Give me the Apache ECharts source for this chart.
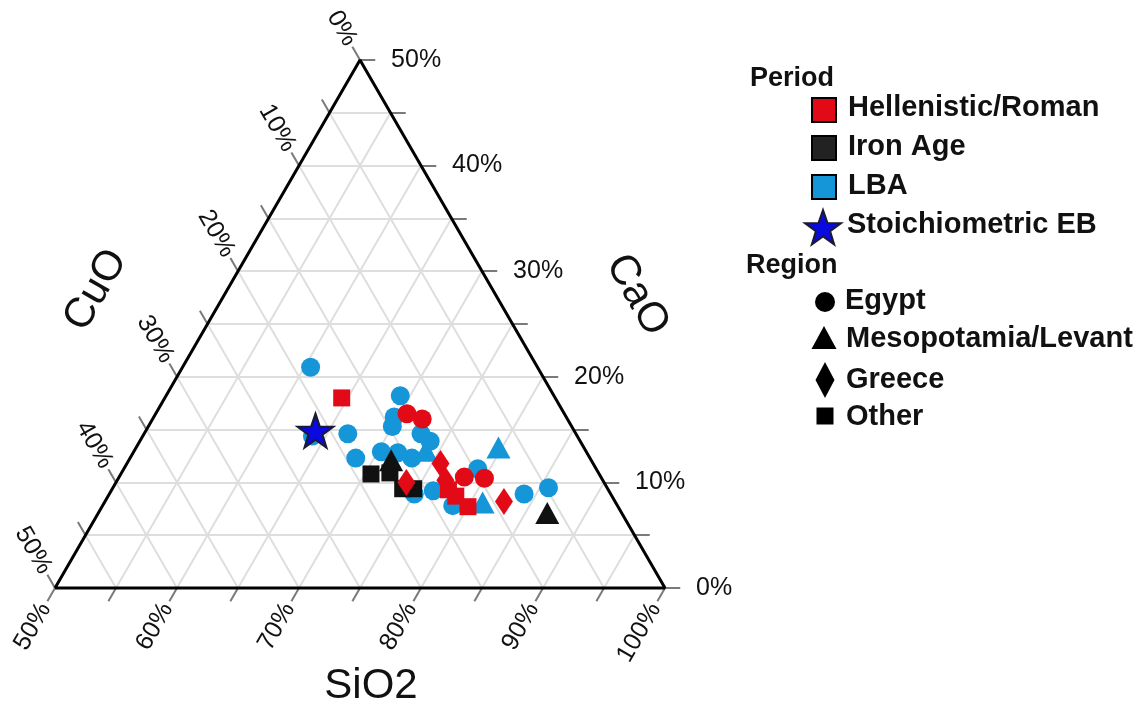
<!DOCTYPE html>
<html>
<head>
<meta charset="utf-8">
<script src="https://cdn.jsdelivr.net/npm/echarts@6/dist/echarts.min.js"></script>
<style>
  html, body { margin: 0; padding: 0; background: #fff; }
  #main { width: 1143px; height: 704px; }
</style>
</head>
<body>
<div id="main"></div>
<script>
// compositions: [SiO2, CaO, CuO] in %
const lbaEgypt = [
  [60.5, 20.9, 18.6], [63.9, 14.4, 21.7], [66.7, 14.6, 18.7], [68.5, 12.3, 19.2],
  [69.2, 18.2, 12.6], [69.7, 16.2, 14.1], [70.0, 15.3, 14.7], [72.7, 14.6, 12.7],
  [73.8, 13.9, 12.3], [70.3, 12.9, 16.8], [71.7, 12.8, 15.5], [73.1, 12.3, 14.6],
  [75.0, 8.9, 16.1], [76.4, 9.2, 14.4], [79.0, 11.3, 9.7], [78.7, 7.8, 13.5],
  [84.0, 8.9, 7.1], [85.7, 9.5, 4.8]
];
const lbaMeso = [[73.9, 13.0, 13.1], [79.7, 13.3, 7.0], [81.0, 8.1, 10.9]];
const ironMeso = [[71.5, 12.1, 16.4], [86.8, 7.1, 6.1]];
const ironOther = [[70.5, 10.8, 18.7], [72.0, 10.9, 17.1], [73.8, 9.4, 16.8], [74.7, 9.4, 15.9]];
const hrEgypt = [[70.6, 16.5, 12.9], [72.1, 16.0, 11.9], [78.3, 10.5, 11.2], [80.0, 10.4, 9.6]];
const hrOther = [[64.5, 18.0, 17.5], [77.6, 9.3, 13.1], [78.5, 8.7, 12.8], [80.0, 7.7, 12.3]];
const hrGreece = [[73.8, 10.0, 16.2], [75.7, 11.8, 12.5], [76.9, 10.2, 12.9], [82.7, 8.2, 9.1]];
const stoichEB = [[63.9, 14.9, 21.2]];

const tickSteps = [0, 5, 10, 15, 20, 25, 30, 35, 40, 45, 50];
const labelSteps = [0, 10, 20, 30, 40, 50];

const RED = '#e30a17', BLUE = '#1496d8', BLACK = '#111111';
const STAR = 'path://M50,0 L61.8,35.1 L98.1,35.1 L68.8,56.8 L79.4,91.4 L50,70 L20.6,91.4 L31.2,56.8 L1.9,35.1 L38.2,35.1 Z';
const H = 50 * Math.sqrt(3);
const FONT = 'Liberation Sans, Arial, sans-serif';

// ternary (SiO2 50-100, CaO 0-50, CuO 0-50) -> plane coords
function toXY(si, ca, cu) {
  const s = si + ca + cu;
  si = si * 100 / s; ca = ca * 100 / s;
  return [2 * (si - 50) + ca, ca * H / 50];
}
const t = (si, ca) => toXY(si, ca, 100 - si - ca);
const pts = arr => arr.map(d => toXY(d[0], d[1], d[2]));
const move = (p, d, len) => [p[0] + d[0] * len, p[1] + d[1] * len];

const dirCa = [1, 0], dirCu = [-0.5, Math.sqrt(3) / 2], dirSi = [-0.5, -Math.sqrt(3) / 2];

let gridLines = [], ticks = [], caoLab = [], cuoLab = [], sioLab = [];
tickSteps.forEach(k => {
  if (k > 0 && k < 50) {
    gridLines.push({coords: [t(50, k), t(100 - k, k)]});
    gridLines.push({coords: [t(50 + k, 0), t(50 + k, 50 - k)]});
    gridLines.push({coords: [t(50, 50 - k), t(100 - k, 0)]});
  }
  let pCa = t(100 - k, k), pCu = t(50, 50 - k), pSi = t(50 + k, 0);
  ticks.push({coords: [pCa, move(pCa, dirCa, 2.5)]});
  ticks.push({coords: [pCu, move(pCu, dirCu, 2.5)]});
  ticks.push({coords: [pSi, move(pSi, dirSi, 2.5)]});
  if (labelSteps.indexOf(k) >= 0) {
    caoLab.push({value: move(pCa, dirCa, 5.1), name: k + '%'});
    cuoLab.push({value: move(pCu, dirCu, 3.0), name: k + '%'});
    sioLab.push({value: move(pSi, dirSi, 3.2), name: (50 + k) + '%'});
  }
});

const labelSeries = (data, align, rotate) => ({
  type: 'scatter', data: data, symbolSize: 0, silent: true, clip: false, z: 5,
  itemStyle: {opacity: 1},
  label: {
    show: true, position: 'inside', formatter: '{b}', align: align, verticalAlign: 'middle',
    rotate: rotate, fontSize: 25, color: '#111', fontFamily: FONT
  }
});

const marks = (data, symbol, size, color) => ({
  type: 'scatter', data: pts(data), symbol: symbol, symbolSize: size, clip: false,
  itemStyle: {color: color, opacity: 1}, z: 10
});

const legText = (text, x, y, size) => ({
  type: 'text', x: x, y: y,
  style: {text: text, fill: '#111', font: 'bold ' + size + 'px ' + FONT, textVerticalAlign: 'middle'}
});

// five-point star outline for the legend
function starPoints(cx, cy, r1, r2) {
  let p = [];
  for (let i = 0; i < 10; i++) {
    let r = i % 2 ? r2 : r1, a = -Math.PI / 2 + i * Math.PI / 5;
    p.push([cx + r * Math.cos(a), cy + r * Math.sin(a)]);
  }
  return p;
}

var myChart = echarts.init(document.getElementById('main'));
var option = {
  animation: false,
  grid: {left: 55, right: 478, top: 60, bottom: 116},
  xAxis: {type: 'value', min: 0, max: 100, show: false},
  yAxis: {type: 'value', min: 0, max: H, show: false},
  series: [
    {type: 'lines', coordinateSystem: 'cartesian2d', data: gridLines, silent: true, clip: false, z: 1,
      lineStyle: {color: '#dedede', width: 2, opacity: 1}},
    {type: 'lines', coordinateSystem: 'cartesian2d', data: ticks, silent: true, clip: false, z: 2,
      lineStyle: {color: '#7a7a7a', width: 2, opacity: 1}},
    {type: 'line', data: [t(50, 0), t(100, 0), t(50, 50), t(50, 0)], symbol: 'none', silent: true,
      clip: false, z: 3, lineStyle: {color: '#000', width: 3}},
    labelSeries(caoLab, 'left', 0),
    labelSeries(cuoLab, 'right', -60),
    labelSeries(sioLab, 'right', 60),
    marks(lbaEgypt, 'circle', 19, BLUE),
    marks(lbaMeso, 'triangle', [24, 22], BLUE),
    marks(ironOther, 'rect', 17, BLACK),
    marks(ironMeso, 'triangle', [24, 22], BLACK),
    marks(hrEgypt, 'circle', 19, RED),
    marks(hrOther, 'rect', 17, RED),
    marks(hrGreece, 'diamond', [18, 27], RED),
    {type: 'scatter', data: pts(stoichEB), symbol: STAR, symbolSize: [36, 34], clip: false, z: 12,
      itemStyle: {color: '#0a0ae0', borderColor: '#1a1a30', borderWidth: 2, opacity: 1}}
  ],
  graphic: [
    {type: 'text', x: 96, y: 290, rotation: Math.PI / 3,
      style: {text: 'CuO', fill: '#111', font: '42px ' + FONT, textAlign: 'center', textVerticalAlign: 'middle'}},
    {type: 'text', x: 637, y: 295, rotation: -Math.PI / 3,
      style: {text: 'CaO', fill: '#111', font: '42px ' + FONT, textAlign: 'center', textVerticalAlign: 'middle'}},
    {type: 'text', x: 371, y: 686,
      style: {text: 'SiO2', fill: '#111', font: '42px ' + FONT, textAlign: 'center', textVerticalAlign: 'middle'}},
    legText('Period', 750, 79, 27),
    {type: 'rect', shape: {x: 812, y: 98, width: 24, height: 24}, style: {fill: RED, stroke: '#000', lineWidth: 2}},
    legText('Hellenistic/Roman', 848, 108, 29),
    {type: 'rect', shape: {x: 812, y: 136, width: 24, height: 24}, style: {fill: '#222', stroke: '#000', lineWidth: 2}},
    legText('Iron Age', 848, 147, 29),
    {type: 'rect', shape: {x: 812, y: 175, width: 24, height: 24}, style: {fill: BLUE, stroke: '#000', lineWidth: 2}},
    legText('LBA', 848, 186, 29),
    {type: 'polygon', shape: {points: starPoints(823, 229, 19, 7.5)},
      style: {fill: '#0a0ae0', stroke: '#1a1a30', lineWidth: 2}},
    legText('Stoichiometric EB', 847, 225, 29),
    legText('Region', 746, 266, 27),
    {type: 'circle', shape: {cx: 825, cy: 302, r: 10}, style: {fill: '#000'}},
    legText('Egypt', 845, 301, 29),
    {type: 'polygon', shape: {points: [[824, 326], [836.5, 349], [811.5, 349]]}, style: {fill: '#000'}},
    legText('Mesopotamia/Levant', 846, 339, 29),
    {type: 'polygon', shape: {points: [[825, 362], [834.5, 380], [825, 398], [815.5, 380]]}, style: {fill: '#000'}},
    legText('Greece', 846, 380, 29),
    {type: 'rect', shape: {x: 816.5, y: 407.5, width: 17, height: 17}, style: {fill: '#000'}},
    legText('Other', 846, 417, 29)
  ]
};
myChart.setOption(option, true);
window.onresize = myChart.resize;
</script>
</body>
</html>
